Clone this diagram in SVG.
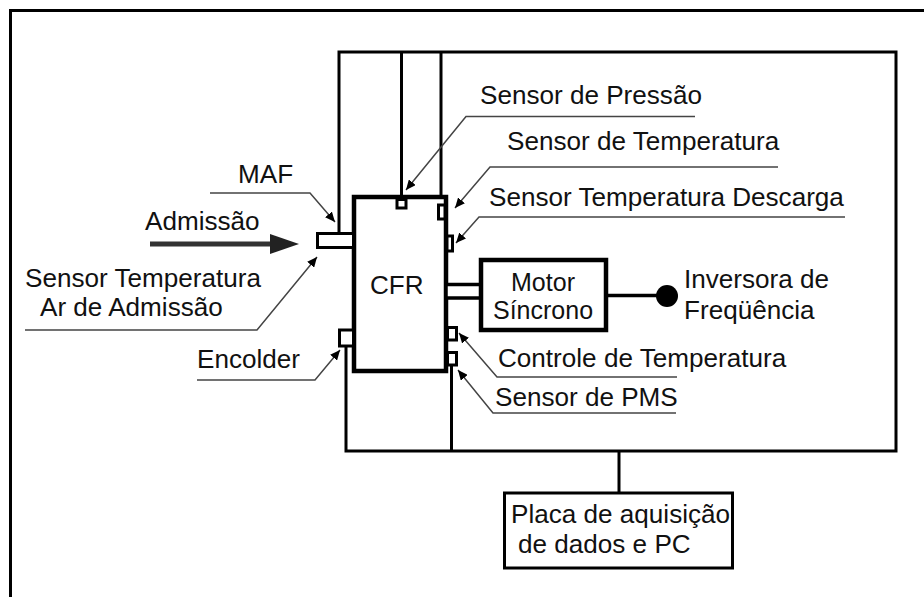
<svg xmlns="http://www.w3.org/2000/svg" width="924" height="597" viewBox="0 0 924 597">
<style>
  text { font-family: "Liberation Sans", Arial, sans-serif; font-size: 26.1px; fill: #111; }
  .wire { fill: none; stroke: #000; stroke-width: 3; }
  .box { fill: #fff; stroke: #000; stroke-width: 4.5; }
  .sensor { fill: #fff; stroke: #000; stroke-width: 3; }
  .leader { fill: none; stroke: #444; stroke-width: 1.5; marker-end: url(#tip); }
  .motortxt { font-size: 25px; }
</style>
<defs>
  <marker id="tip" markerUnits="userSpaceOnUse" markerWidth="11" markerHeight="9" refX="10" refY="4.5" orient="auto">
    <path d="M0,0 L10,4.5 L0,9 z" fill="#000"/>
  </marker>
  <marker id="bigtip" markerUnits="userSpaceOnUse" markerWidth="30" markerHeight="20" refX="0" refY="10" orient="auto">
    <path d="M0,0 L29,10 L0,20 z" fill="#222"/>
  </marker>
</defs>
<rect x="0" y="0" width="924" height="597" fill="#fff"/>
<g id="frame">
  <path d="M10.5,597 V10.5 H924" fill="none" stroke="#000" stroke-width="3"/>
</g>
<g id="connectors">
  <path class="wire" d="M339,233 V52 H896 V451 H346 V346"/>
  <path class="wire" d="M401.5,52 V199"/>
  <path class="wire" d="M441,52 V199"/>
  <path class="wire" d="M451.5,365 V451"/>
  <path class="wire" d="M619,451 V493"/>
  <path d="M607,295.5 H660" fill="none" stroke="#000" stroke-width="3.5"/>
  <circle cx="667" cy="296" r="11" fill="#000"/>
  <path d="M150,244 H270" fill="none" stroke="#333" stroke-width="5" marker-end="url(#bigtip)"/>
  <path class="leader" d="M695,116.5 H466 L406,190"/>
  <path class="leader" d="M778,167 H490 L455,208"/>
  <path class="leader" d="M845,217 H479 L456,243"/>
  <path class="leader" d="M210,193 H310 L335,222"/>
  <path class="leader" d="M25,330 H257 L317,257"/>
  <path class="leader" d="M197,380 H315 L340,350"/>
  <path class="leader" d="M677,377 H497 L459,333"/>
  <path class="leader" d="M676,413 H493 L458,370"/>
</g>
<g id="cfr">
  <rect class="box" x="354" y="197" width="92" height="174"/>
  <text x="370" y="294">CFR</text>
</g>
<g id="sensor-pressao">
  <rect class="sensor" x="397" y="199.5" width="9" height="8.5"/>
</g>
<g id="sensor-temperatura">
  <rect class="sensor" x="438.5" y="205" width="6.5" height="14"/>
</g>
<g id="sensor-descarga">
  <rect class="sensor" x="447" y="236" width="5.5" height="15"/>
</g>
<g id="sensor-maf">
  <rect class="sensor" x="317.5" y="233.5" width="36" height="14"/>
</g>
<g id="sensor-encoder">
  <rect class="sensor" x="339.5" y="330" width="14" height="16"/>
</g>
<g id="sensor-controle">
  <rect class="sensor" x="447.5" y="327.5" width="9" height="12.5"/>
</g>
<g id="sensor-pms">
  <rect class="sensor" x="447.5" y="352.5" width="9" height="12.5"/>
</g>
<g id="shaft">
  <rect x="446" y="284.5" width="35" height="13.5" fill="#fff" stroke="#000" stroke-width="3.5"/>
</g>
<g id="motor">
  <rect class="box" x="481" y="260" width="125" height="70"/>
  <text class="motortxt" x="543" y="291" text-anchor="middle">Motor</text>
  <text class="motortxt" x="543" y="319" text-anchor="middle">Síncrono</text>
</g>
<g id="placa">
  <rect x="504.5" y="493" width="228" height="75" fill="#fff" stroke="#000" stroke-width="3"/>
  <text x="511" y="523">Placa de aquisição</text>
  <text x="518" y="553">de dados e PC</text>
</g>
<g id="labels">
  <text x="480" y="103.5">Sensor de Pressão</text>
  <text x="507" y="150">Sensor de Temperatura</text>
  <text x="489" y="206">Sensor Temperatura Descarga</text>
  <text x="238" y="183">MAF</text>
  <text x="145" y="230">Admissão</text>
  <text x="25" y="286.5">Sensor Temperatura</text>
  <text x="40" y="316">Ar de Admissão</text>
  <text x="197" y="368">Encolder</text>
  <text x="498" y="367">Controle de Temperatura</text>
  <text x="495" y="406">Sensor de PMS</text>
  <text x="684" y="288">Inversora de</text>
  <text x="684" y="319">Freqüência</text>
</g>
</svg>
